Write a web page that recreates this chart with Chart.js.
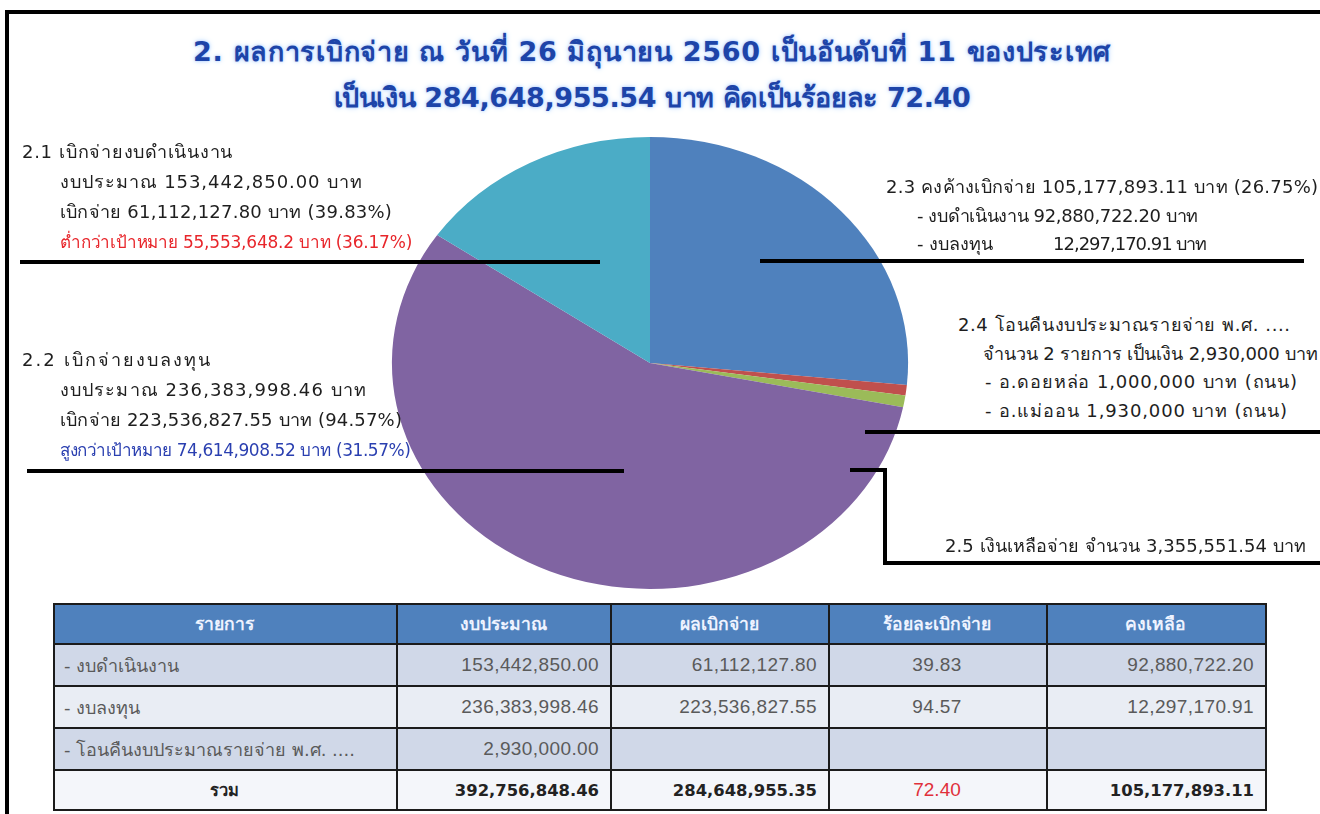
<!DOCTYPE html>
<html lang="th">
<head>
<meta charset="utf-8">
<title>ผลการเบิกจ่าย</title>
<script src="https://cdn.jsdelivr.net/npm/chart.js@4.4.1/dist/chart.umd.min.js"></script>
<style>
  html, body { margin: 0; padding: 0; background: #ffffff; }
  body { width: 1320px; height: 814px; position: relative; overflow: hidden;
         font-family: Tahoma, "DejaVu Sans", "Noto Sans", sans-serif; color: #222; }
  .frame-top { position: absolute; left: 5px; top: 10px; width: 1315px; height: 4px; background: #000; }
  .frame-left { position: absolute; left: 5px; top: 10px; width: 4px; height: 804px; background: #000; }
  .title { position: absolute; left: 0; width: 1304px; text-align: center; font-weight: bold;
           font-size: 27px; color: #1d44a8;
           text-shadow: 0 0 3px #a9ccff, 0 0 6px #c9e0ff; white-space: nowrap; }
  .note { position: absolute; font-size: 18px; white-space: nowrap; color: #1e1e1e; }
  .note > div { height: 30px; line-height: 30px; position: relative; }
  .note .ind { padding-left: 38px; }
  .note .sm > span { font-size: 17px; }
  .red { color: #e8262b; }
  .blue { color: #2a3fb0; }
  .lead { position: absolute; background: #000; }
  #pieBox { position: absolute; left: 350px; top: 137px; width: 600px; height: 452px; }
  table { position: absolute; left: 53px; top: 603px; border-collapse: collapse; }
  td, th { border: 2px solid #1b1b1b; padding: 0 11px 0 9px; white-space: nowrap; }
  th { background: #4f81bd; color: #eef3ff; font-weight: bold; text-align: center; height: 38px; font-size: 17.5px; }
  td { color: #5a5a5a; height: 40px; font-size: 18px; }
  td.num, td.pct { font-family: "Liberation Sans", Arial, sans-serif; font-size: 19px; letter-spacing: 0.4px; }
  tr.odd td { background: #d0d8e8; }
  tr.even td { background: #e9edf4; }
  tr.sum td { background: #f4f6fa; color: #222; font-weight: bold; height: 38px; font-size: 16.4px; letter-spacing: 0;
              font-family: Tahoma, "DejaVu Sans", sans-serif; }
  td.num { text-align: right; }
  td.pct { text-align: center; }
  tr.sum td.hot { color: #e0303a; font-weight: normal; font-size: 19px; font-family: "Liberation Sans", Arial, sans-serif; }
</style>
</head>
<body>
<div class="frame-top"></div>
<div class="frame-left"></div>

<div class="title" style="top:30px;"><span data-w="917">2. ผลการเบิกจ่าย ณ วันที่ 26 มิถุนายน 2560 เป็นอันดับที่ 11 ของประเทศ</span></div>
<div class="title" style="top:76px;"><span data-w="637">เป็นเงิน 284,648,955.54 บาท คิดเป็นร้อยละ 72.40</span></div>

<div id="pieBox"><canvas id="pie"></canvas></div>

<!-- callout texts -->
<div class="note" style="left:22px; top:137px;">
  <div><span data-w="211">2.1 เบิกจ่ายงบดำเนินงาน</span></div>
  <div class="ind"><span data-w="302">งบประมาณ 153,442,850.00 บาท</span></div>
  <div class="ind"><span data-w="332">เบิกจ่าย 61,112,127.80 บาท (39.83%)</span></div>
  <div class="ind sm red"><span data-w="352">ต่ำกว่าเป้าหมาย 55,553,648.2 บาท (36.17%)</span></div>
</div>
<div class="note" style="left:22px; top:345px;">
  <div><span data-w="188">2.2 เบิกจ่ายงบลงทุน</span></div>
  <div class="ind"><span data-w="306">งบประมาณ 236,383,998.46 บาท</span></div>
  <div class="ind"><span data-w="342">เบิกจ่าย 223,536,827.55 บาท (94.57%)</span></div>
  <div class="ind sm blue"><span data-w="351">สูงกว่าเป้าหมาย 74,614,908.52 บาท (31.57%)</span></div>
</div>
<div class="note" style="left:886px; top:173px;">
  <div style="height:28.5px;line-height:28.5px;"><span data-w="432">2.3 คงค้างเบิกจ่าย 105,177,893.11 บาท (26.75%)</span></div>
  <div style="height:28.5px;line-height:28.5px;padding-left:31px;"><span data-w="281">- งบดำเนินงาน 92,880,722.20 บาท</span></div>
  <div style="height:28.5px;line-height:28.5px;padding-left:31px;"><span>- งบลงทุน</span><span data-w="145" style="position:absolute;left:167px;">12,297,170.91 บาท</span></div>
</div>
<div class="note" style="left:958px; top:311px;">
  <div style="height:28.7px;line-height:28.7px;"><span data-w="332">2.4 โอนคืนงบประมาณรายจ่าย พ.ศ. ....</span></div>
  <div style="height:28.7px;line-height:28.7px;padding-left:25px;"><span data-w="335">จำนวน 2 รายการ เป็นเงิน 2,930,000 บาท</span></div>
  <div style="height:28.7px;line-height:28.7px;padding-left:27px;"><span data-w="312">- อ.ดอยหล่อ 1,000,000 บาท (ถนน)</span></div>
  <div style="height:28.7px;line-height:28.7px;padding-left:27px;"><span data-w="302">- อ.แม่ออน 1,930,000 บาท (ถนน)</span></div>
</div>
<div class="note" style="left:945px; top:531px;">
  <div><span data-w="361">2.5 เงินเหลือจ่าย จำนวน 3,355,551.54 บาท</span></div>
</div>

<!-- leader lines -->
<div class="lead" style="left:20px; top:260px; width:580px; height:4px;"></div>
<div class="lead" style="left:27px; top:469px; width:597px; height:4px;"></div>
<div class="lead" style="left:760px; top:259px; width:544px; height:4px;"></div>
<div class="lead" style="left:865px; top:430px; width:455px; height:4px;"></div>
<div class="lead" style="left:850px; top:468px; width:37px; height:4px;"></div>
<div class="lead" style="left:883px; top:468px; width:4px; height:97px;"></div>
<div class="lead" style="left:883px; top:561px; width:437px; height:4px;"></div>

<table id="tbl">
  <colgroup>
    <col style="width:343px"><col style="width:214px"><col style="width:218px"><col style="width:218px"><col style="width:219px">
  </colgroup>
  <thead><tr id="head"></tr></thead>
  <tbody id="body"></tbody>
</table>

<script>
// Pie slices: amounts in baht
const sliceLabels = ['2.3 คงค้างเบิกจ่าย', '2.4 โอนคืนงบประมาณรายจ่าย', '2.5 เงินเหลือจ่าย', '2.2 เบิกจ่ายงบลงทุน', '2.1 เบิกจ่ายงบดำเนินงาน'];
const sliceValues = [105177893.11, 2930000.00, 3355551.54, 223536827.55, 61112127.80];
const sliceColors = ['#4f81bd', '#c0504d', '#9bbb59', '#8064a2', '#4bacc6'];

// Summary table
const tableHeaders = ['รายการ', 'งบประมาณ', 'ผลเบิกจ่าย', 'ร้อยละเบิกจ่าย', 'คงเหลือ'];
const rowItems = ['- งบดำเนินงาน', '- งบลงทุน', '- โอนคืนงบประมาณรายจ่าย พ.ศ. ....'];
const rowBudget = ['153,442,850.00', '236,383,998.46', '2,930,000.00'];
const rowPaid = ['61,112,127.80', '223,536,827.55', ''];
const rowPercent = ['39.83', '94.57', ''];
const rowRemain = ['92,880,722.20', '12,297,170.91', ''];
const totalRow = ['รวม', '392,756,848.46', '284,648,955.35', '72.40', '105,177,893.11'];

// build table
const head = document.getElementById('head');
tableHeaders.forEach(h => { const th = document.createElement('th'); th.textContent = h; head.appendChild(th); });
const body = document.getElementById('body');
rowItems.forEach((item, i) => {
  const tr = document.createElement('tr');
  tr.className = i % 2 === 0 ? 'odd' : 'even';
  const cells = [[item, ''], [rowBudget[i], 'num'], [rowPaid[i], 'num'], [rowPercent[i], 'pct'], [rowRemain[i], 'num']];
  cells.forEach(([t, c]) => { const td = document.createElement('td'); td.textContent = t; if (c) td.className = c; tr.appendChild(td); });
  body.appendChild(tr);
});
const sum = document.createElement('tr');
sum.className = 'sum';
totalRow.forEach((t, k) => {
  const td = document.createElement('td');
  td.textContent = t;
  td.className = k === 0 ? 'pct' : (k === 3 ? 'pct hot' : 'num');
  sum.appendChild(td);
});
body.appendChild(sum);

// spread each text run to its column width with letter-spacing
const clusters = s => s.replace(/[\u0E31\u0E34-\u0E3A\u0E47-\u0E4E]/g, '').length;
document.querySelectorAll('[data-w]').forEach(el => {
  const target = parseFloat(el.dataset.w);
  el.style.letterSpacing = '0px';
  const natural = el.getBoundingClientRect().width;
  const n = Math.max(1, clusters(el.textContent) - 1);
  const ls = Math.max(-1, Math.min(2.2, (target - natural) / n));
  el.style.letterSpacing = ls.toFixed(2) + 'px';
});

// stretch the pie horizontally into an ellipse
const STRETCH_X = 1.142;
const ellipsePlugin = {
  id: 'ellipse',
  beforeDatasetsDraw(chart) {
    const a = chart.getDatasetMeta(0).data[0];
    const ctx = chart.ctx;
    ctx.save();
    ctx.translate(a.x, a.y);
    ctx.scale(STRETCH_X, 1);
    ctx.translate(-a.x, -a.y);
  },
  afterDatasetsDraw(chart) { chart.ctx.restore(); }
};

new Chart(document.getElementById('pie'), {
  type: 'pie',
  data: {
    labels: sliceLabels,
    datasets: [{ data: sliceValues, backgroundColor: sliceColors, borderWidth: 0, hoverOffset: 0 }]
  },
  options: {
    responsive: true,
    maintainAspectRatio: false,
    animation: false,
    layout: { padding: 0 },
    plugins: { legend: { display: false }, tooltip: { enabled: false } }
  },
  plugins: [ellipsePlugin]
});
</script>
</body>
</html>
